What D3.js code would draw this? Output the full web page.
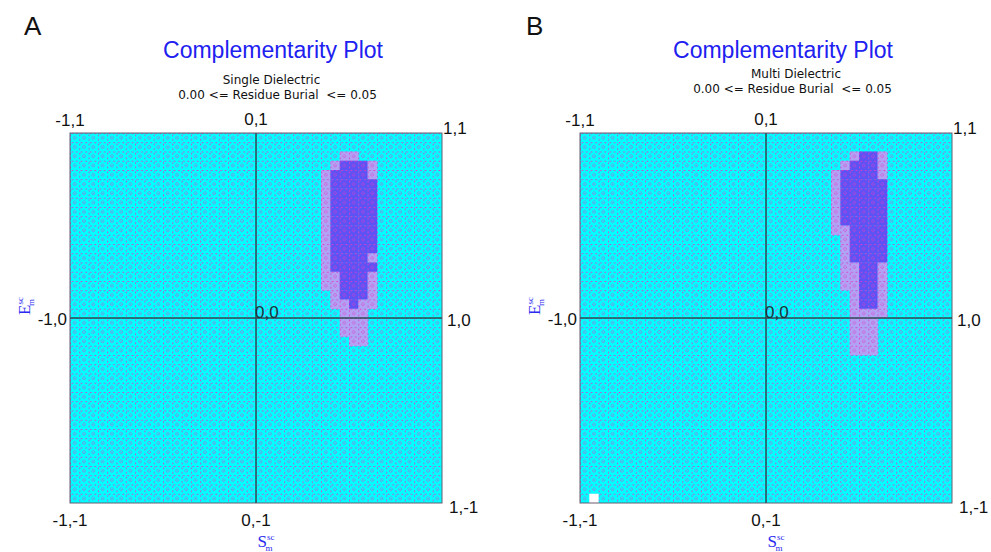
<!DOCTYPE html>
<html><head><meta charset="utf-8">
<script src="https://cdn.jsdelivr.net/npm/d3@7"></script>
<style>body{margin:0;background:#fff} svg{display:block}</style>
</head><body>
<svg id="c" width="991" height="552"></svg>
<script>
// ---- data ----
const gridSize = 40;                       // 40 x 40 cells spanning -1..1
const panelLetters = ["A", "B"];
const titles = ["Complementarity Plot", "Complementarity Plot"];
const subtitles = ["Single Dielectric", "Multi Dielectric"];
const burialLabels = ["0.00 <= Residue Burial  <= 0.05", "0.00 <= Residue Burial  <= 0.05"];
const topLabels = ["-1,1", "0,1", "1,1"];
const midLabels = ["-1,0", "0,0", "1,0"];
const bottomLabels = ["-1,-1", "0,-1", "1,-1"];
// occupied cells: rows (from top) starting at blobRowStart, columns starting at blobColStart
// '.' = empty, 'l' = low density (light), 'd' = high density (dark)
const blobColStart = 26;
const blobRowStart = 2;
const blobA = [
  "...ll....",
  "..ldddl..",
  ".lddddl..",
  ".lddddd..",
  ".lddddd..",
  ".lddddd..",
  ".lddddd..",
  ".lddddd..",
  ".lddddd..",
  ".lddddd..",
  ".lddddd..",
  ".lddddl..",
  ".lddddd..",
  ".lldddl..",
  ".lldddl..",
  "..ldddl..",
  "..lldll..",
  "...lll...",
  "...lll...",
  "...lll...",
  "....ll..."
];
const blobB = [
  "...lddl..",
  "..ldddl..",
  ".lddddl..",
  ".lddddd..",
  ".lddddd..",
  ".lddddd..",
  ".lddddd..",
  ".lddddd..",
  ".lldddd..",
  "..ldddd..",
  "..ldddd..",
  "..ldddd..",
  "..llddl..",
  "..llddl..",
  "..llddl..",
  "...lddl..",
  "...lddl..",
  "...llll..",
  "...lll...",
  "...lll...",
  "...lll...",
  "...lll..."
];
const blobs = [blobA, blobB];
const whiteCells = [[], [[1, 39]]];  // [col,row]

// ---- layout ----
const panelX = [70, 580];
const plotY = 133, plotW = 372, plotH = 370;
const titleCX = [273, 783];
const subCX = [[271.5, 277.5], [796, 792.5]];
const subY = [[84, 99], [78, 93]];
const letterX = [24, 526];
const colors = {bg: "#00ffff", l: "#b2a2f4", d: "#5d52f4", w: "#ffffff"};

const svg = d3.select("#c");
const col = d3.scaleBand().domain(d3.range(gridSize)).range([0, plotW]);
const row = d3.scaleBand().domain(d3.range(gridSize)).range([0, plotH]);
const xs = d3.scaleLinear().domain([-1, 1]).range([0, plotW]);
const ys = d3.scaleLinear().domain([-1, 1]).range([plotH, 0]);

// dot pattern
const cw = col.bandwidth(), ch = row.bandwidth();
const pat = svg.append("defs").append("pattern")
  .attr("id", "dots").attr("patternUnits", "userSpaceOnUse")
  .attr("width", cw).attr("height", ch);
const pink = "#dc3ccb";
[[1.5,0,1.6,1],[6,0,1.6,1],[0,1.5,1,1.6],[0,6,1,1.6],[4.2,3,1,1],[4.2,5.6,1,1],[2.9,4.3,1,1],[5.5,4.3,1,1]]
  .forEach(r => pat.append("rect").attr("x", r[0]).attr("y", r[1]).attr("width", r[2]).attr("height", r[3]).attr("fill", pink));

panelLetters.forEach((L, p) => {
  const g = svg.append("g").attr("transform", `translate(${panelX[p]},${plotY})`);
  g.append("rect").attr("width", plotW).attr("height", plotH).attr("fill", colors.bg);
  const cells = [];
  blobs[p].forEach((s, i) => s.split("").forEach((c, j) => {
    if (c !== ".") cells.push({r: blobRowStart + i, c: blobColStart + j, t: c});
  }));
  g.selectAll(".cell").data(cells).join("rect")
    .attr("x", d => col(d.c)).attr("y", d => row(d.r))
    .attr("width", cw + 0.3).attr("height", ch + 0.3)
    .attr("fill", d => colors[d.t]);
  g.append("rect").attr("width", plotW).attr("height", plotH).attr("fill", "url(#dots)");
  g.selectAll(".wcell").data(whiteCells[p]).join("rect")
    .attr("x", d => col(d[0])).attr("y", d => row(d[1]))
    .attr("width", cw).attr("height", ch).attr("fill", colors.w);
  g.append("rect").attr("width", plotW).attr("height", plotH)
    .attr("fill", "none").attr("stroke", "#6a5a70").attr("stroke-width", 1);
  g.append("line").attr("x1", xs(0)).attr("x2", xs(0)).attr("y1", 0).attr("y2", plotH)
    .attr("stroke", "#2c4b52").attr("stroke-width", 1.5);
  g.append("line").attr("x1", 0).attr("x2", plotW).attr("y1", ys(0)).attr("y2", ys(0))
    .attr("stroke", "#2c4b52").attr("stroke-width", 1.5);

  const lab = (t, x, y, anchor, color) => g.append("text").text(t)
    .attr("x", x).attr("y", y).attr("text-anchor", anchor)
    .attr("font-family", "Liberation Sans, Arial, sans-serif").attr("font-size", 17)
    .attr("fill", color || "#111");
  lab(topLabels[0], xs(-1), -7, "middle");
  lab(topLabels[1], xs(0), -8, "middle");
  lab(topLabels[2], xs(1) + 1, 1, "start");
  lab(midLabels[0], xs(-1) - 3, ys(0) + 7, "end");
  lab(midLabels[1], xs(0) - 1, ys(0), "start", "#1b3238");
  lab(midLabels[2], xs(1) + 5, ys(0) + 8, "start");
  lab(bottomLabels[0], xs(-1), plotH + 23, "middle");
  lab(bottomLabels[1], xs(0), plotH + 23, "middle");
  lab(bottomLabels[2], xs(1) + 7, plotH + 10, "start");

  // axis titles
  const ex = -40, ey = ys(0) - 12;
  const et = g.append("text").attr("transform", `translate(${ex},${ey}) rotate(-90)`)
    .attr("font-family", "Liberation Serif, Times New Roman, serif").attr("fill", "#2b2bf0")
    .attr("text-anchor", "middle");
  et.append("tspan").attr("font-size", 17).text("E");
  et.append("tspan").attr("font-size", 9).attr("dy", -7).text("sc");
  et.append("tspan").attr("font-size", 9).attr("dx", -9).attr("dy", 11).text("m");
  const st = g.append("text").attr("transform", `translate(${xs(0) + 10},${plotH + 44})`)
    .attr("font-family", "Liberation Serif, Times New Roman, serif").attr("fill", "#2b2bf0")
    .attr("text-anchor", "middle");
  st.append("tspan").attr("font-size", 17).text("S");
  st.append("tspan").attr("font-size", 9).attr("dy", -7).text("sc");
  st.append("tspan").attr("font-size", 9).attr("dx", -9).attr("dy", 11).text("m");

  // titles
  svg.append("text").text(L).attr("x", letterX[p]).attr("y", 35)
    .attr("font-family", "Liberation Sans, Arial, sans-serif").attr("font-size", 26).attr("fill", "#111");
  svg.append("text").text(titles[p]).attr("x", titleCX[p]).attr("y", 58).attr("text-anchor", "middle")
    .attr("font-family", "Liberation Sans, Arial, sans-serif").attr("font-size", 23).attr("fill", "#2020f0");
  svg.append("text").text(subtitles[p]).attr("x", subCX[p][0]).attr("y", subY[p][0]).attr("text-anchor", "middle")
    .attr("font-family", "DejaVu Sans, sans-serif").attr("font-size", 12).attr("fill", "#111");
  svg.append("text").text(burialLabels[p]).attr("x", subCX[p][1]).attr("y", subY[p][1]).attr("text-anchor", "middle")
    .style("white-space", "pre")
    .attr("font-family", "DejaVu Sans, sans-serif").attr("font-size", 12).attr("fill", "#111");
});
</script>
</body></html>
